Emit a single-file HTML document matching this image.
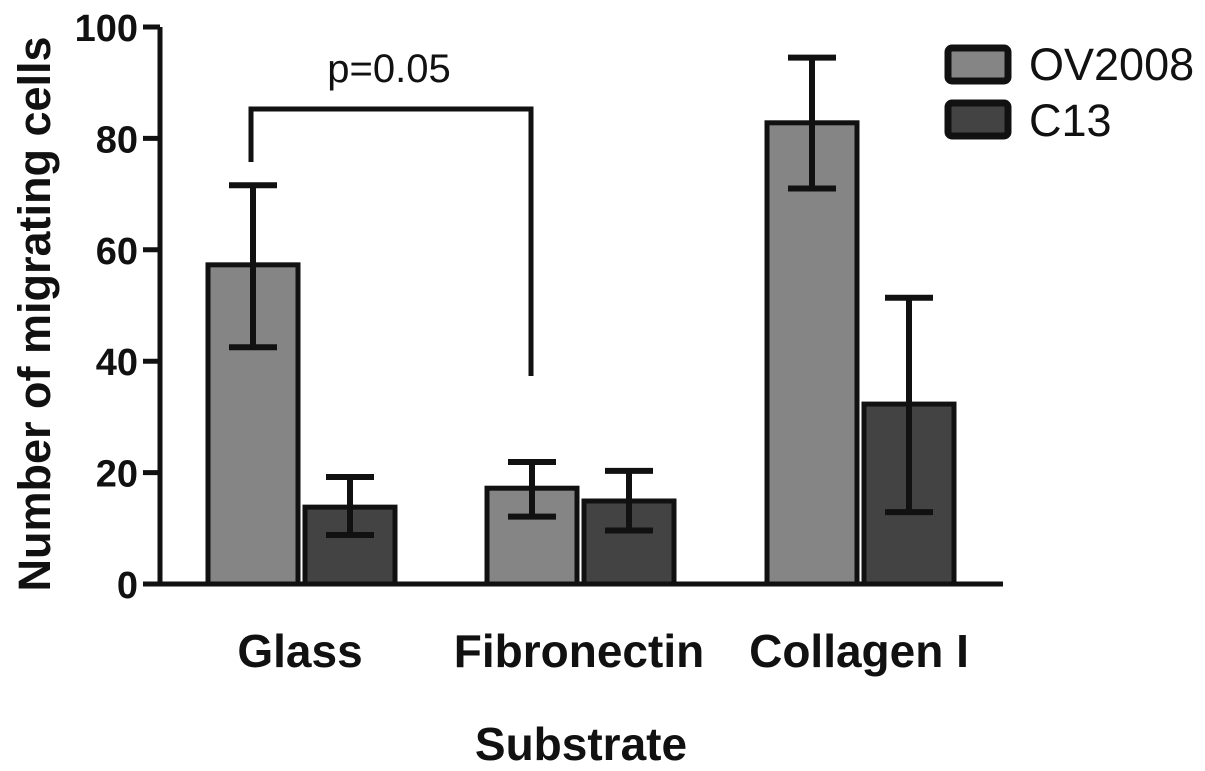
<!DOCTYPE html>
<html><head><meta charset="utf-8"><style>
html,body{margin:0;padding:0;background:#fff;}
svg{display:block;font-family:"Liberation Sans",Arial,sans-serif;}
</style></head><body>
<svg id="chart" width="1205" height="771" viewBox="0 0 1205 771"></svg>
<script>
const categories=["Glass","Fibronectin","Collagen I"];
const seriesNames=["OV2008","C13"];
const ovValues=[57.3,17.2,82.8];
const c13Values=[13.8,14.9,32.3];
const ovErrLow=[42.5,12.1,71.0];
const ovErrHigh=[71.6,21.9,94.5];
const c13ErrLow=[8.8,9.6,12.9];
const c13ErrHigh=[19.2,20.3,51.4];
const yTicks=[0,20,40,60,80,100];
const ns="http://www.w3.org/2000/svg";
const svg=document.getElementById('chart');
const y0=584,yTop=27,xAxis=160,xEnd=1003;
function y(v){return y0-(v/100)*(y0-yTop);}
const groupLeft=[208,487,767];
function xBar(g,s){return groupLeft[g]+s*97;}
const barW=90;
function el(t,a,p){const e=document.createElementNS(ns,t);for(const k in a)e.setAttribute(k,a[k]);(p||svg).appendChild(e);return e;}
const colors=["#858585","#434343"];
[ovValues,c13Values].forEach((vals,s)=>{
  const lo=s?c13ErrLow:ovErrLow, hi=s?c13ErrHigh:ovErrHigh;
  vals.forEach((v,g)=>{
    const x=xBar(g,s);
    const r=el('rect',{x:x,y:y(v),width:barW,height:y0-y(v),fill:colors[s],stroke:'#111',"stroke-width":5});
    
    
    const cx=x+barW/2;
    const e=el('path',{d:`M${cx} ${y(hi[g])}V${y(lo[g])}M${cx-24} ${y(hi[g])}H${cx+24}M${cx-24} ${y(lo[g])}H${cx+24}`,stroke:'#111',"stroke-width":6,fill:'none'});
    
    
  });
});
const ax=el('path',{d:`M${xAxis} ${yTop}V${y0}H${xEnd}`,stroke:'#111',"stroke-width":5,fill:'none'});


yTicks.forEach(t=>{
  const tk=el('line',{x1:143,x2:xAxis,y1:y(t),y2:y(t),stroke:'#111',"stroke-width":5});
  
  
  const tx=el('text',{x:138,y:y(t)+14,"text-anchor":"end","font-size":38,"font-weight":"bold",fill:'#111'});
  tx.textContent=t;
  
  
});
categories.forEach((c,g)=>{
  const t=el('text',{x:groupLeft[g]+92,y:667,"text-anchor":"middle","font-size":46,"font-weight":"bold",fill:'#111'});
  t.textContent=c;
  
  
});
const xt=el('text',{x:581,y:760,"text-anchor":"middle","font-size":46,"font-weight":"bold",fill:'#111'});
xt.textContent="Substrate";


const yt=el('text',{x:0,y:0,transform:'translate(50,314) rotate(-90)',"text-anchor":"middle","font-size":45,"font-weight":"bold",fill:'#111'});
yt.textContent="Number of migrating cells";


const br=el('path',{d:`M251 162V109H531V376`,stroke:'#111',"stroke-width":5,fill:'none'});


const pt=el('text',{x:389,y:82,"text-anchor":"middle","font-size":40,fill:'#111'});
pt.textContent="p=0.05";


seriesNames.forEach((n,s)=>{
  const r=el('rect',{x:948,y:48+s*55,width:60,height:33,rx:4,fill:colors[s],stroke:'#111',"stroke-width":7});
  
  
  const t=el('text',{x:1029,y:80+s*56,"font-size":45,fill:'#111'});
  t.textContent=n;
  
  
});
</script>
</body></html>
